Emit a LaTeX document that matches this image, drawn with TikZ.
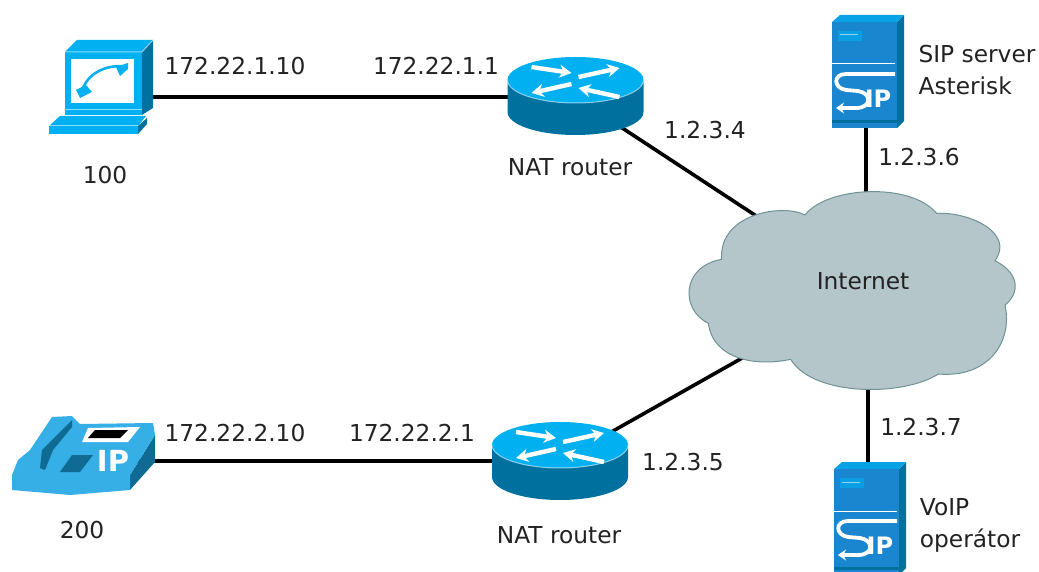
\documentclass[tikz,border=0pt]{standalone}
\usepackage{fontspec}
\setmainfont{DejaVu Sans}
\usetikzlibrary{positioning,arrows.meta}

\definecolor{lightblue}{HTML}{00B0F0}
\definecolor{darkblue}{HTML}{00709F}
\definecolor{sipblue}{HTML}{1A86CF}
\definecolor{phoneblue}{HTML}{36AEE6}
\definecolor{phonedark}{HTML}{0F6A94}
\definecolor{cloudfill}{HTML}{B4C6C9}
\definecolor{cloudline}{HTML}{6F9298}
\definecolor{textgray}{HTML}{222222}

\tikzset{
  label/.style={inner sep=0pt,text=textgray,font=\fontsize{23.3}{32}\selectfont,align=left},
  link/.style={line width=3.6pt},
  spot/.style={inner sep=0pt,minimum size=2pt},
  whitearrow/.style={white,line width=4.4pt,-{Stealth[length=12pt,width=13pt]}},
  paleline/.style={white,opacity=.55,line width=1pt},
  router/.pic={
    \fill[darkblue] (-68,0) -- (-68,32) arc[start angle=180,end angle=0,x radius=68,y radius=23] -- (68,0) -- cycle;
    \fill[lightblue] (0,0) ellipse[x radius=68,y radius=23];
    \draw[paleline] (-68,0) arc[start angle=180,end angle=0,x radius=68,y radius=23];
    \draw[whitearrow] (-44,-13) -- (-4,-7);
    \draw[whitearrow] (3,-3) -- (44,-12);
    \draw[whitearrow] (-4,4) -- (-44,13);
    \draw[whitearrow] (44,17) -- (3,8);
  },
  sipserver/.pic={
    \fill[darkblue] (31,-53) -- (38,-60) -- (38,46) -- (31,53) -- cycle;
    \fill[lightblue!70!sipblue] (-34,-53) -- (-26,-60) -- (38,-60) -- (31,-53) -- cycle;
    \fill[sipblue] (-34,-53) rectangle (31,53);
    \fill[lightblue!60!sipblue] (-28,-44) rectangle (-4,-34);
    \draw[paleline] (-26,-40) -- (-8,-40);
    \draw[white,line width=1pt] (-34,-11) -- (29,-11);
    \fill[darkblue] (-34,45) rectangle (31,48);
    \draw[white,line width=3.8pt,-{Stealth[length=8pt,width=11pt]}] (29,-1) -- (-20,-1)
      .. controls (-33,-1) and (-33,13) .. (-20,15) -- (-8,16)
      .. controls (6,18) and (6,33) .. (-10,33) -- (-30,33);
    \node[spot,text=white,font=\bfseries\fontsize{24}{24}\selectfont] at (12,24) {IP};
  },
}

\begin{document}
\begin{tikzpicture}[x=1pt,y=-1pt]
  \useasboundingbox (0,0) rectangle (1039,572);
  % anchors
  \node[spot] (laptop) at (100,97) {};
  \node[spot] (phone)  at (90,461) {};
  \node[spot] (natA)   at (575,97) {};
  \node[spot] (natB)   at (560,461) {};
  \node[spot] (sipA)   at (866,70) {};
  \node[spot] (sipB)   at (868,515) {};
  \node[spot] (hub)    at (866,288) {};

  % links
  \draw[link] (laptop) -- (natA);
  \draw[link] (phone) -- (natB);
  \draw[link] (natA) -- (hub);
  \draw[link] (natB) -- (hub);
  \draw[link] (sipA) -- (sipA |- hub);
  \draw[link] (sipB) -- (sipB |- hub);

  % cloud
  \begin{scope}[shift={(670,170)},scale=1/3]
    \draw[fill=cloudfill,draw=cloudline,line width=1pt] (405,135)
      .. controls (470,50) and (720,35) .. (800,130)
      .. controls (900,125) and (1035,190) .. (975,272)
      .. controls (1050,310) and (1050,370) .. (1005,405)
      .. controls (1030,520) and (950,625) .. (805,612)
      .. controls (700,680) and (430,680) .. (362,568)
      .. controls (260,590) and (130,570) .. (115,460)
      .. controls (32,420) and (32,290) .. (155,268)
      .. controls (145,130) and (340,100) .. cycle;
  \end{scope}

  % routers and servers
  \pic at (575.5,80) {router};
  \pic at (560,445) {router};
  \pic at (866,75) {sipserver};
  \pic at (868,522) {sipserver};

  % laptop
  \fill[lightblue] (65,52) -- (77,40) -- (153,40) -- (142,52) -- cycle;
  \fill[darkblue] (142,52) -- (153,40) -- (153,108) -- (142,115) -- cycle;
  \fill[lightblue] (65,52) rectangle (142,115);
  \draw[paleline] (65,52) -- (142,52) -- (153,40);
  \fill[white] (71,59) rectangle (134,103);
  \draw[paleline] (65,110) -- (142,110);
  \draw[lightblue,line width=2.5pt] (83,88) .. controls (90,72) and (105,66) .. (122,66);
  \fill[lightblue] (76,90) -- (86,85) -- (92,92) -- (80,98) -- cycle;
  \fill[lightblue] (116,67) -- (128,63) -- (128,69) -- (120,76) -- cycle;
  \fill[lightblue] (60,116) -- (146,116) -- (138,126) -- (49,126) -- cycle;
  \fill[lightblue] (49,126) rectangle (138,134);
  \draw[paleline] (49,126) -- (138,126);
  \fill[darkblue] (138,126) -- (147,118) -- (147,124) -- (138,134) -- cycle;

  % desk phone
  \fill[phonedark] (130,475) -- (155,435) -- (155,462) -- (130,490) -- cycle;
  \fill[phoneblue] (12,475) -- (18,460) -- (30,450) -- (52,417) -- (72,416) -- (80,424) -- (153,423) -- (155,435) -- (130,475) -- (130,490) -- (70,495) -- (12,490) -- cycle;
  \fill[phonedark] (72,420) -- (42,450) -- (40,468) -- (45,470) -- (53,450) -- (72,427) -- cycle;
  \fill[white] (88,428) -- (140,427) -- (128,442) -- (82,442) -- cycle;
  \fill[black] (95,430) -- (128,430) -- (120,438) -- (88,438) -- cycle;
  \fill[phonedark] (72,455) -- (93,455) -- (80,472) -- (60,472) -- cycle;
  \node[spot,text=white,font=\bfseries\fontsize{29}{29}\selectfont] (ip) at (113,461) {IP};

  % labels
  \node[label] (l100) at (105,175) {100};
  \node[label] (l200) at (82,530) {200};
  \node[label] (ipA) at (235,66) {172.22.1.10};
  \node[label] (ipB) at (436,66) {172.22.1.1};
  \node[label] (ipC) at (235,433) {172.22.2.10};
  \node[label] (ipD) at (412,433) {172.22.2.1};
  \node[label] (ipE) at (705,130) {1.2.3.4};
  \node[label] (ipF) at (683,462) {1.2.3.5};
  \node[label] (ipG) at (919,157) {1.2.3.6};
  \node[label] (ipH) at (921,427) {1.2.3.7};
  \node[label] (natAl) at (570,167) {NAT router};
  \node[label] (natBl) at (559,535) {NAT router};
  \node[label] (asterisk) at (977,70) {SIP server\\Asterisk};
  \node[label] (voip) at (970,525) {VoIP\\operátor};
  \node[label] (internet) at (863,281) {Internet};
\end{tikzpicture}
\end{document}
